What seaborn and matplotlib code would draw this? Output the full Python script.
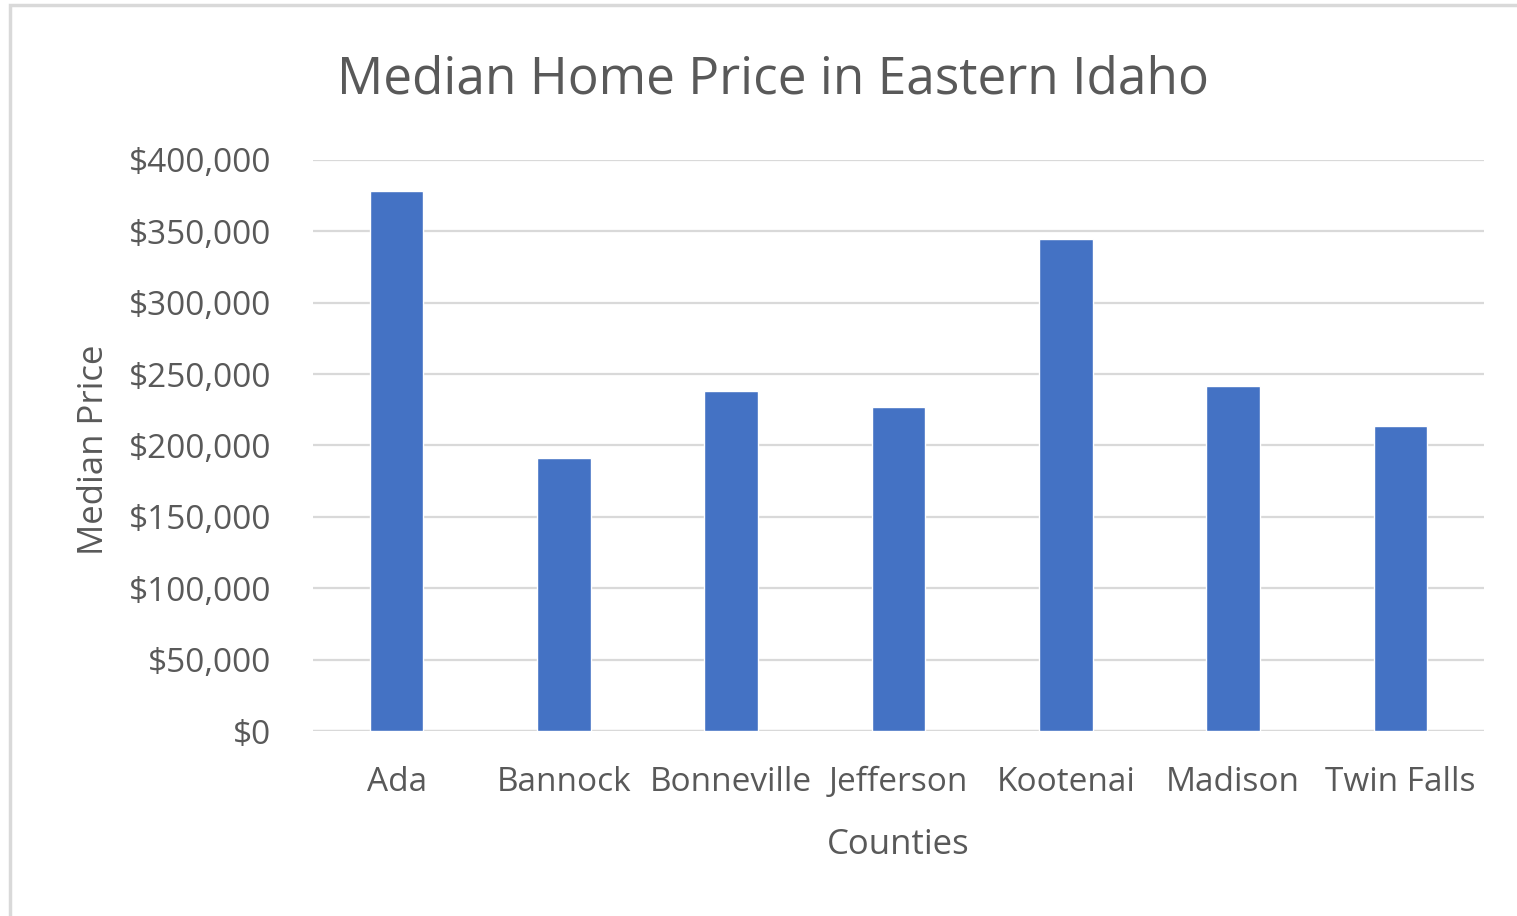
import pandas as pd
import matplotlib.pyplot as plt
import seaborn as sns
from matplotlib.ticker import FuncFormatter
from matplotlib.patches import Rectangle

counties = ['Ada', 'Bannock', 'Bonneville', 'Jefferson', 'Kootenai', 'Madison', 'Twin Falls']
prices = [378000, 191000, 238000, 227000, 345000, 242000, 214000]

df = pd.DataFrame({'County': counties, 'Price': prices})

sns.set_style("white")
plt.rcParams['font.family'] = ['Open Sans', 'DejaVu Sans']

fig = plt.figure(figsize=(15.17, 9.16), dpi=100)
ax = fig.add_axes([313 / 1517, 1 - 731 / 916, (1484 - 313) / 1517, (731 - 160) / 916])

sns.barplot(data=df, x='County', y='Price', color='#4472C4', width=0.32, saturation=1, ax=ax, zorder=3)

ax.set_ylim(0, 400000)
ax.set_yticks(range(0, 400001, 50000))
ax.yaxis.set_major_formatter(FuncFormatter(lambda v, p: f'${v:,.0f}'))
ax.grid(axis='y', color='#d9d9d9', linewidth=1.6, zorder=0)
ax.set_axisbelow(True)
sns.despine(ax=ax, left=True, bottom=True, top=True, right=True)
ax.axhline(0, color='#d9d9d9', linewidth=1.6, zorder=2)

ax.tick_params(axis='y', length=0, pad=30, labelsize=24, labelcolor='#595959')
ax.tick_params(axis='x', length=0, pad=25, labelsize=24, labelcolor='#595959')

ax.set_xlabel('Counties', fontsize=25, color='#595959', labelpad=21)
ax.set_ylabel('')
fig.text(94 / 1517, 1 - 450 / 916, 'Median Price', rotation=90, ha='center', va='center',
         fontsize=25, color='#595959')

fig.text(773 / 1517, 1 - 80 / 916, 'Median Home Price in Eastern Idaho', ha='center', va='center',
         fontsize=37, color='#595959')

# chart area border (left and top edges visible)
fig.patches.append(Rectangle((10 / 1517, -0.1), 1.2, 1 - 5 / 916 + 0.1, transform=fig.transFigure,
                             fill=False, edgecolor='#d9d9d9', linewidth=2.5))

plt.savefig('out.png', dpi=100)
